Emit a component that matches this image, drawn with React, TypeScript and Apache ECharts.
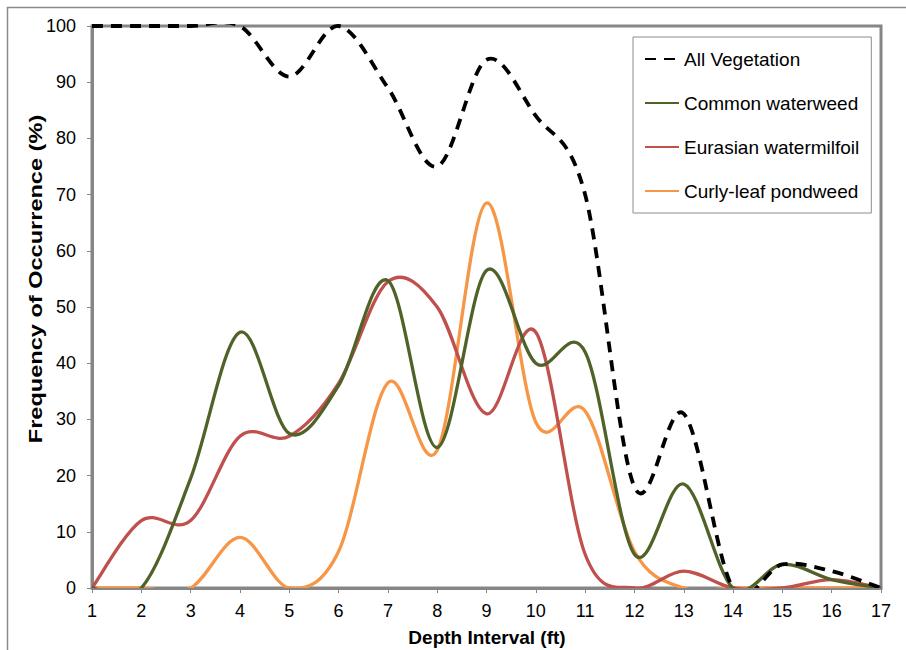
import React, { useEffect, useRef } from "react";
import * as echarts from "echarts";

const depths = [1, 2, 3, 4, 5, 6, 7, 8, 9, 10, 11, 12, 13, 14, 15, 16, 17];
const allVegetation = [100, 100, 100, 100, 91, 100, 89, 75, 94, 84, 70, 18, 31, 0, 4.2, 3, 0];
const commonWaterweed = [0, 0, 19.5, 45.5, 27.5, 36, 54.7, 25, 56.5, 40, 42, 6, 18.5, 0, 4.2, 1.5, 0];
const eurasianWatermilfoil = [0, 12, 12, 27, 27, 36.4, 54.5, 50, 31, 45.5, 6, 0, 3, 0, 0, 1.5, 0];
const curlyleafPondweed = [0, 0, 0, 9, 0, 6.5, 36.5, 24.5, 68.5, 29.5, 31.5, 6.5, 0, 0, 0, 0, 0];

const seriesNames = ["All Vegetation", "Common waterweed", "Eurasian watermilfoil", "Curly-leaf pondweed"];
const seriesColors = ["#000000", "#4F6228", "#C0504D", "#F79646"];
const seriesValues = [allVegetation, commonWaterweed, eurasianWatermilfoil, curlyleafPondweed];

const FONT = "'Liberation Sans', Arial, sans-serif";
const DASH = [11, 8];

// Catmull-Rom style smoothing (like a spreadsheet's smoothed line), computed on pixel coords from api.coord
function smoothPath(pts: number[][]): string {
  const n = pts.length;
  if (n === 0) return "";
  let d = `M${pts[0][0]},${pts[0][1]}`;
  for (let i = 0; i < n - 1; i++) {
    const p0 = pts[Math.max(0, i - 1)];
    const p1 = pts[i];
    const p2 = pts[i + 1];
    const p3 = pts[Math.min(n - 1, i + 2)];
    const c1x = p1[0] + (p2[0] - p0[0]) / 6;
    const c1y = p1[1] + (p2[1] - p0[1]) / 6;
    const c2x = p2[0] - (p3[0] - p1[0]) / 6;
    const c2y = p2[1] - (p3[1] - p1[1]) / 6;
    d += ` C${c1x},${c1y} ${c2x},${c2y} ${p2[0]},${p2[1]}`;
  }
  return d;
}

export default function App() {
  const ref = useRef<HTMLDivElement>(null);
  useEffect(() => {
    if (!ref.current) return;
    const chart = echarts.init(ref.current, null, { renderer: "svg" });

    // legend-only line series (no data) so the legend shows proper line icons
    const legendSeries = seriesNames.map((name, i) => ({
      name,
      type: "line",
      data: [],
      symbol: "none",
      lineStyle: {
        color: seriesColors[i],
        width: i === 0 ? 3.8 : 3.3,
        type: i === 0 ? DASH : "solid",
        cap: "butt",
      },
      itemStyle: { color: seriesColors[i] },
    }));

    const curveSeries = seriesNames.map((name, i) => ({
      name,
      type: "custom",
      z: 10 - i,
      data: [[depths[0], seriesValues[i][0]]],
      encode: { x: 0, y: 1 },
      renderItem: (params: any, api: any) => {
        const pts = depths.map((dd, j) => api.coord([dd, seriesValues[i][j]]));
        const cs = params.coordSys;
        return {
          type: "group",
          clipPath: { type: "rect", shape: { x: cs.x, y: cs.y - 2, width: cs.width, height: cs.height + 2 } },
          children: [
            {
              type: "path",
              shape: { pathData: smoothPath(pts) },
              style: {
                fill: "none",
                stroke: seriesColors[i],
                lineWidth: i === 0 ? 3.8 : 3.3,
                lineDash: i === 0 ? DASH : null,
                lineCap: "butt",
                lineJoin: "round",
              },
            },
          ],
        };
      },
    }));

    chart.setOption({
      animation: false,
      backgroundColor: "#ffffff",
      grid: {
        left: 92,
        right: 25,
        top: 26,
        bottom: 62,
        show: true,
        borderColor: "#868686",
        borderWidth: 3,
        backgroundColor: "transparent",
      },
      legend: {
        orient: "vertical",
        left: 633,
        top: 37,
        padding: [12, 12, 12, 11],
        backgroundColor: "#ffffff",
        borderColor: "#8c8c8c",
        borderWidth: 1,
        itemWidth: 34,
        itemHeight: 14,
        itemGap: 24,
        itemStyle: { opacity: 0 },
        textStyle: { fontFamily: FONT, fontSize: 19, color: "#000", lineHeight: 20 },
        data: seriesNames,
      },
      xAxis: {
        type: "value",
        min: 1,
        max: 17,
        interval: 1,
        axisLine: { show: true, lineStyle: { color: "#868686", width: 3 } },
        axisTick: { show: true, length: 5, lineStyle: { color: "#868686", width: 1 } },
        axisLabel: { fontFamily: FONT, fontSize: 18, color: "#000", margin: 14 },
        splitLine: { show: false },
      },
      yAxis: {
        type: "value",
        min: 0,
        max: 100,
        interval: 10,
        axisLine: { show: true, lineStyle: { color: "#868686", width: 3 } },
        axisTick: { show: true, length: 5, lineStyle: { color: "#868686", width: 1 } },
        axisLabel: { fontFamily: FONT, fontSize: 18, color: "#000", margin: 16 },
        splitLine: { show: false },
      },
      graphic: [
        {
          type: "rect",
          shape: { x: 7.5, y: 7.5, width: 1000, height: 1000 },
          style: { fill: "none", stroke: "#8a8a8a", lineWidth: 1.5 },
          silent: true,
          z: -10,
        },
        {
          type: "text",
          x: 487,
          y: 637,
          style: {
            text: "Depth Interval (ft)",
            fontFamily: FONT,
            fontSize: 19,
            fontWeight: "bold",
            fill: "#000",
            align: "center",
            verticalAlign: "middle",
          },
        },
        {
          type: "text",
          x: 36,
          y: 279,
          rotation: Math.PI / 2,
          scaleX: 1.24,
          style: {
            text: "Frequency of Occurrence (%)",
            fontFamily: FONT,
            fontSize: 19,
            fontWeight: "bold",
            fill: "#000",
            align: "center",
            verticalAlign: "middle",
          },
        },
      ],
      series: [...legendSeries, ...curveSeries],
    });
    return () => chart.dispose();
  }, []);
  return (
    <div
      ref={ref}
      style={{ position: "fixed", left: 0, top: 0, width: 906, height: 650, background: "#fff" }}
    />
  );
}
